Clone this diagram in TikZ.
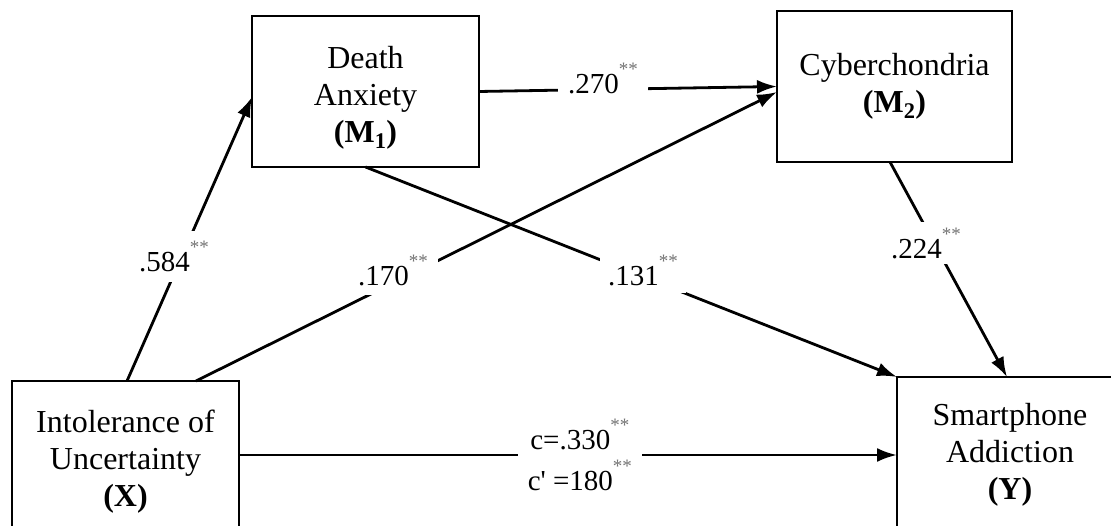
\documentclass[tikz,border=0pt]{standalone}
\usepackage{fontspec}
\setmainfont{Liberation Serif}
\newfontfamily\nomap{Liberation Serif}
\usetikzlibrary{arrows.meta}
\definecolor{stargray}{gray}{0.45}
\newcommand{\sigstars}{\raisebox{18pt}{\fontsize{19}{19}\selectfont\color{stargray}**}}
\begin{document}
\begin{tikzpicture}[x=1pt,y=-1pt,
  box/.style={draw, line width=2.8pt, align=center, inner sep=0pt, outer sep=0pt,
    font=\fontsize{32}{37}\selectfont},
  conn/.style={line width=2.8pt, -{Latex[length=20pt,width=14pt]}},
  lab/.style={fill=white, inner sep=10pt, align=center, font=\fontsize{29}{41}\selectfont}]
\useasboundingbox (0,0) rectangle (1111,526);
\clip (0,0) rectangle (1111,526);
\node[box, minimum width=227pt, minimum height=151pt] (M1) at (365.5,91.5)
  {\rule{0pt}{34pt}Death\\Anxiety\\\textbf{(M\textsubscript{1})}};
\node[box, minimum width=235pt, minimum height=151pt] (M2) at (894.5,86.5)
  {Cyberchondria\\\textbf{(M\textsubscript{2})}};
\node[box, minimum width=227pt, minimum height=162pt] (X) at (125.5,462)
  {Intolerance of\\Uncertainty\\\textbf{(X)}};
\node[box, minimum width=226pt, minimum height=156pt] (Y) at (1010,455)
  {Smartphone\\Addiction\\\textbf{(Y)}};
% paths
\draw[conn] ([xshift=1.5pt]X.north) -- node[lab, pos=0.437, xshift=-7.6pt] {.584\sigstars} ([yshift=-5.5pt]M1.west);
\draw[conn] ([xshift=70.5pt]X.north) -- node[lab, pos=0.339, yshift=13pt] {.170\sigstars} ([yshift=-5.5pt]M2.west);
\draw[conn] (M1.east) -- node[lab, pos=0.416, yshift=11pt] {.270\sigstars} (M2.west);
\draw[conn] (M1.south) -- node[lab, pos=0.522, yshift=6.6pt, inner sep=8pt] {.131\sigstars} (Y.north west);
\draw[conn] ([xshift=-4.5pt]M2.south) -- node[lab, pos=0.377, xshift=-8pt, inner sep=6pt] {.224\sigstars} ([xshift=-3pt]Y.north);
\draw[conn] (X.east |- Y.west) -- node[lab, pos=0.518] {c=.330\sigstars\\c{\nomap '} =180\sigstars} (Y.west);
\end{tikzpicture}
\end{document}
